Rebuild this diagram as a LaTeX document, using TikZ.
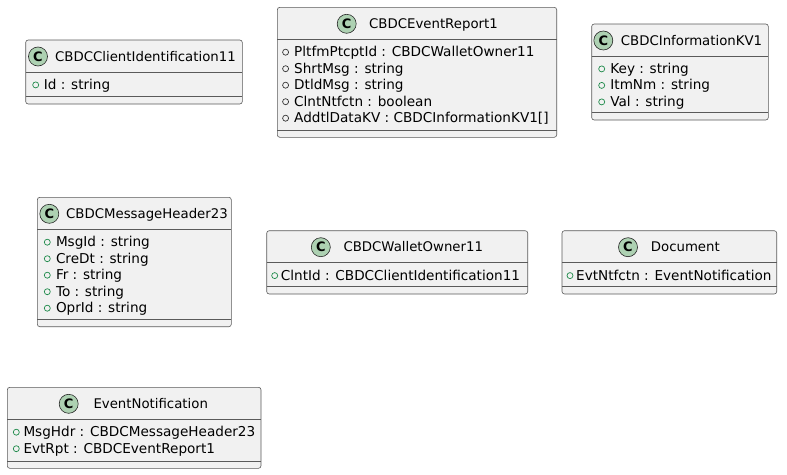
\documentclass[tikz,border=0pt]{standalone}
\usepackage{fontspec}
\setmainfont{DejaVu Sans}
\definecolor{umlfill}{HTML}{F1F1F1}
\definecolor{badgefill}{HTML}{ADD1B2}
\definecolor{markgreen}{HTML}{1E8A4A}
\definecolor{markdark}{HTML}{333333}
\definecolor{umlline}{HTML}{5A5A5A}
\newcommand\UClass[8]{%
  \pgfmathsetmacro\uw{#4-#2}\pgfmathsetmacro\uh{#5-#3}%
  \node[frame, minimum width=\uw pt, minimum height=\uh pt, anchor=north west] (#1) at (#2,#3) {};
  \draw[sepline] (#2,#3+32) -- (#4,#3+32);
  \draw[sepline] (#2,#5-7.5) -- (#4,#5-7.5);
  \node[badge] (#1-c) at (#6,#3+16.5) {C};
  \node[ttl] (#1-t) at (#7,#3+21) {#8};
}
\newcommand\UAttr[8]{%
  \node[marker, draw=#8] (#1-m) at (#2+#4,#3+44.9+16.5*#6) {};
  \node[attr] (#1) at (#2+#5,#3+49.4+16.5*#6) {#7};
}
\begin{document}
\begin{tikzpicture}[x=1pt,y=-1pt,
  frame/.style={draw=umlline, line width=0.6pt, fill=umlfill, rounded corners=2.5pt, inner sep=0pt, outer sep=0pt},
  sepline/.style={draw=umlline, line width=0.6pt},
  badge/.style={circle, draw=black!85, line width=0.6pt, fill=badgefill, minimum size=19pt, inner sep=0pt, font=\fontsize{13}{13}\selectfont\bfseries},
  ttl/.style={font=\fontsize{13.3}{16}\selectfont, inner sep=0pt, anchor=base west},
  attr/.style={font=\fontsize{13.6}{16}\selectfont, inner sep=0pt, anchor=base west},
  marker/.style={circle, line width=0.7pt, minimum size=6pt, inner sep=0pt, fill=none}]
\useasboundingbox (0,0) rectangle (787,474);

% CBDCClientIdentification11
\UClass{b1}{25.7}{40}{242.3}{104}{38}{55}{CBDCClientIdentification11}
\UAttr{b1a0}{25.7}{40}{10}{18}{0}{Id : string}{markgreen}

% CBDCEventReport1
\UClass{b2}{277.3}{7.3}{556.7}{137.3}{346.7}{369}{CBDCEventReport1}
\UAttr{b2a0}{277.3}{7.3}{8.3}{16.7}{0}{PltfmPtcptId : CBDCWalletOwner11}{markdark}
\UAttr{b2a1}{277.3}{7.3}{8.3}{16.7}{1}{ShrtMsg : string}{markdark}
\UAttr{b2a2}{277.3}{7.3}{8.3}{16.7}{2}{DtldMsg : string}{markdark}
\UAttr{b2a3}{277.3}{7.3}{8.3}{16.7}{3}{ClntNtfctn : boolean}{markdark}
\UAttr{b2a4}{277.3}{7.3}{8.3}{16.7}{4}{AddtlDataKV : CBDCInformationKV1[]}{markdark}

% CBDCInformationKV1
\UClass{b3}{591.7}{24}{768.3}{120}{603.3}{620.7}{CBDCInformationKV1}
\UAttr{b3a0}{591.7}{24}{10}{18.5}{0}{Key : string}{markgreen}
\UAttr{b3a1}{591.7}{24}{10}{18.5}{1}{ItmNm : string}{markgreen}
\UAttr{b3a2}{591.7}{24}{10}{18.5}{2}{Val : string}{markgreen}

% CBDCMessageHeader23
\UClass{b4}{37.3}{197.3}{231.3}{326.7}{49.3}{66}{CBDCMessageHeader23}
\UAttr{b4a0}{37.3}{197.3}{10}{18.5}{0}{MsgId : string}{markgreen}
\UAttr{b4a1}{37.3}{197.3}{10}{18.5}{1}{CreDt : string}{markgreen}
\UAttr{b4a2}{37.3}{197.3}{10}{18.5}{2}{Fr : string}{markgreen}
\UAttr{b4a3}{37.3}{197.3}{10}{18.5}{3}{To : string}{markgreen}
\UAttr{b4a4}{37.3}{197.3}{10}{18.5}{4}{OprId : string}{markgreen}

% CBDCWalletOwner11
\UClass{b5}{266.7}{230.7}{527.7}{294}{320.8}{343.3}{CBDCWalletOwner11}
\UAttr{b5a0}{266.7}{230.7}{8}{14}{0}{ClntId : CBDCClientIdentification11}{markgreen}

% Document
\UClass{b6}{562}{230.7}{776.7}{294}{628}{650.7}{Document}
\UAttr{b6a0}{562}{230.7}{8}{14}{0}{EvtNtfctn : EventNotification}{markgreen}

% EventNotification
\UClass{b7}{7.3}{387.3}{261}{468.3}{68.7}{93.3}{EventNotification}
\UAttr{b7a0}{7.3}{387.3}{9}{16}{0}{MsgHdr : CBDCMessageHeader23}{markgreen}
\UAttr{b7a1}{7.3}{387.3}{9}{16}{1}{EvtRpt : CBDCEventReport1}{markgreen}
\end{tikzpicture}
\end{document}
